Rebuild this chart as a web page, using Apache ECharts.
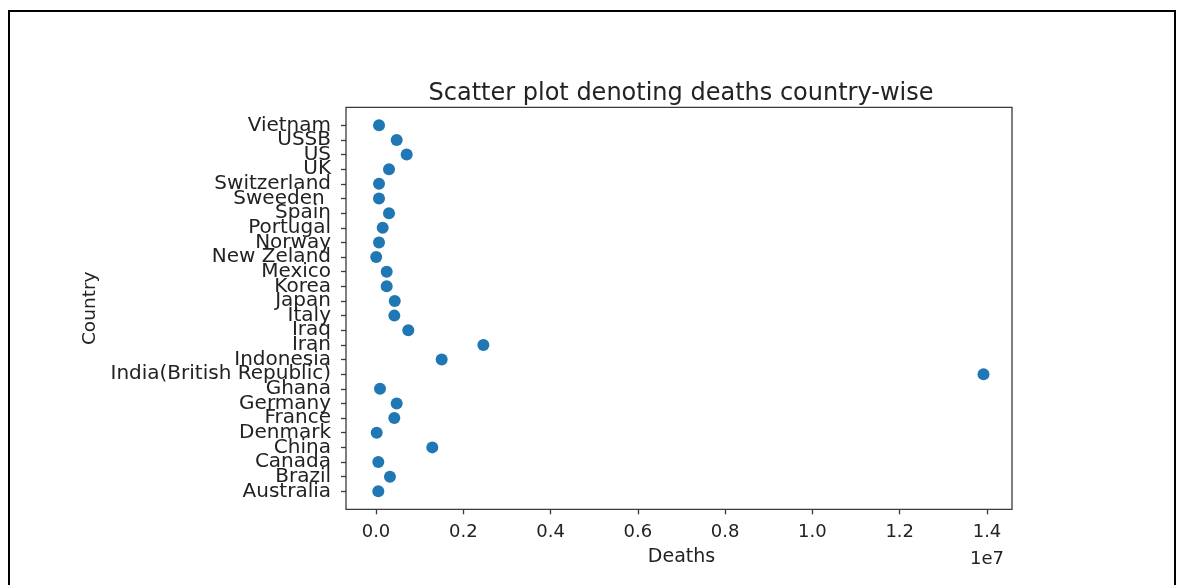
<!DOCTYPE html>
<html>
<head>
<meta charset="utf-8">
<script src="https://cdn.jsdelivr.net/npm/echarts@6/dist/echarts.min.js"></script>
<style>
html,body{margin:0;padding:0;background:#fff;}
#c{width:1183px;height:585px;}
</style>
</head>
<body>
<div id="c"></div>
<script>
// Categories listed bottom-to-top as on the y axis
const countries = ["Australia","Brazil","Canada","China","Denmark","France","Germany","Ghana",
  "India(British Republic)","Indonesia","Iran","Iraq","Italy","Japan","Korea","Mexico",
  "New Zeland","Norway","Portugal","Spain","Sweeden ","Switzerland","UK","US","USSB","Vietnam"];
const deaths = [53000, 320000, 53000, 1290000, 16000, 420000, 474000, 92000,
  13920000, 1505000, 2460000, 740000, 420000, 430000, 245000, 245000,
  5000, 69000, 153000, 298000, 69000, 69000, 298000, 703000, 474000, 69000];
const xTicks = [0, 2e6, 4e6, 6e6, 8e6, 1e7, 1.2e7, 1.4e7];

const font = "DejaVu Sans";
const txt = "#222";
const spine = "#3a3a3a";
const chart = echarts.init(document.getElementById('c'), null, {renderer: 'canvas'});
chart.setOption({
  animation: false,
  backgroundColor: '#fff',
  title: [
    {text: 'Scatter plot denoting deaths country-wise', left: 676, top: 77, textAlign: 'center',
     textStyle: {fontFamily: font, fontSize: 24, fontWeight: 'normal', color: txt}},
    {text: '1e7', right: 1183 - 1009, top: 545,
     textStyle: {fontFamily: font, fontSize: 18, fontWeight: 'normal', color: txt}}
  ],
  graphic: [{type: 'rect', shape: {x: 9, y: 11, width: 1166, height: 600},
    style: {fill: 'none', stroke: '#000', lineWidth: 2}, silent: true}],
  grid: [
    {left: 376, right: 1183 - 987, top: 125.3, bottom: 585 - 491.3},
    {left: 346, top: 107.3, width: 666, height: 402, show: true, borderColor: spine, borderWidth: 1.3, backgroundColor: 'transparent'}
  ],
  xAxis: [
    {type: 'value', gridIndex: 0, min: xTicks[0], max: xTicks[xTicks.length - 1], interval: xTicks[1] - xTicks[0],
     offset: 18, axisLine: {show: true, onZero: false, lineStyle: {color: 'rgba(0,0,0,0)'}}, splitLine: {show: false},
     axisTick: {show: true, inside: false, length: 5, lineStyle: {color: spine, width: 1.3}},
     axisLabel: {margin: 14, fontFamily: font, fontSize: 18, color: txt,
       formatter: v => (v / 1e7).toFixed(1)},
     name: 'Deaths', nameLocation: 'middle', nameGap: 38,
     nameTextStyle: {fontFamily: font, fontSize: 19, color: txt}},
    {type: 'value', gridIndex: 1, show: false, min: 0, max: 1}
  ],
  yAxis: [
    {type: 'category', gridIndex: 0, data: countries, boundaryGap: false, offset: 30,
     axisLine: {show: true, onZero: false, lineStyle: {color: 'rgba(0,0,0,0)'}}, splitLine: {show: false},
     axisTick: {show: true, inside: false, length: 5, interval: 0, lineStyle: {color: spine, width: 1.3}},
     axisLabel: {interval: 0, margin: 15, fontFamily: font, fontSize: 20, color: txt},
     name: 'Country', nameLocation: 'middle', nameRotate: 90, nameGap: 245,
     nameTextStyle: {fontFamily: font, fontSize: 18.5, color: txt}},
    {type: 'value', gridIndex: 1, show: false, min: 0, max: 1}
  ],
  series: [{
    type: 'scatter', xAxisIndex: 0, yAxisIndex: 0, symbolSize: 12,
    itemStyle: {color: '#1f77b4', opacity: 1},
    data: countries.map((c, i) => [deaths[i], c])
  }]
});
</script>
</body>
</html>
